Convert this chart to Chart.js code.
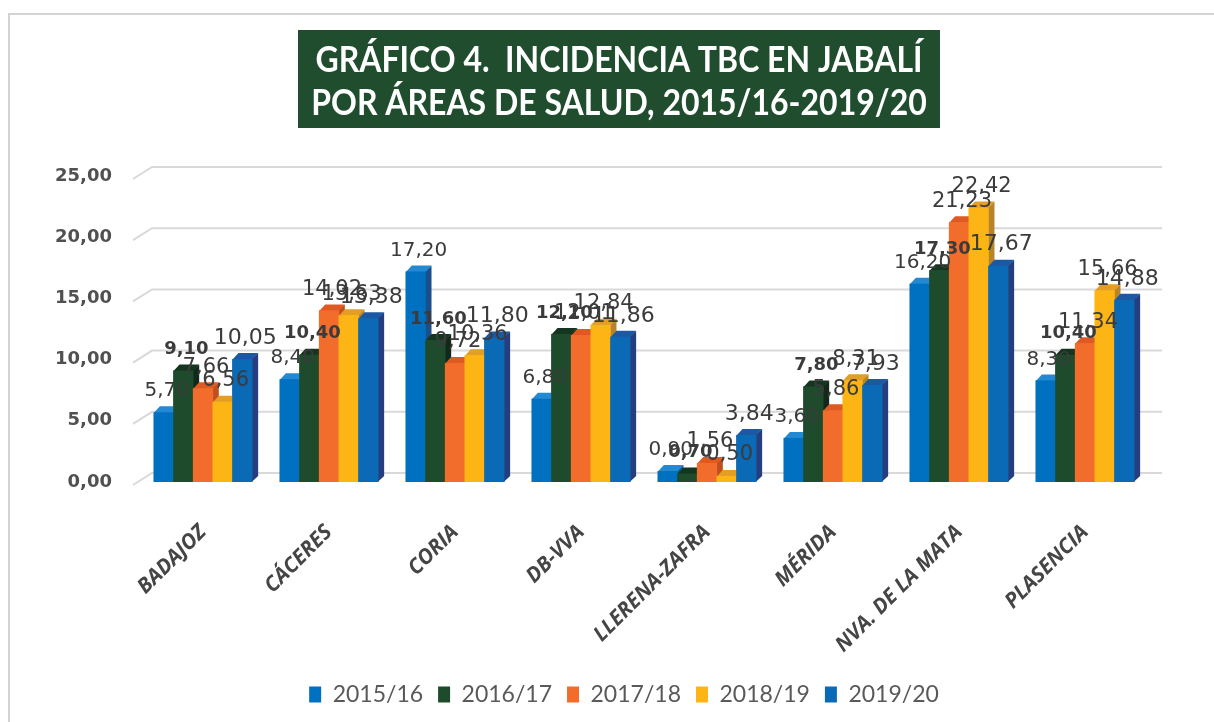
<!DOCTYPE html>
<html><head><meta charset="utf-8">
<script src="https://cdn.jsdelivr.net/npm/chart.js@4.4.1/dist/chart.umd.min.js"></script>
<style>html,body{margin:0;padding:0;background:#fff;} #wrap{position:relative;width:1214px;height:722px;} canvas{display:block;}</style>
</head><body>
<div id="wrap"><canvas id="c" width="1214" height="722"></canvas></div>
<script>
const titleLines = ['GRÁFICO 4.  INCIDENCIA TBC EN JABALÍ', 'POR ÁREAS DE SALUD, 2015/16-2019/20'];
const categories = ['BADAJOZ', 'CÁCERES', 'CORIA', 'DB-VVA', 'LLERENA-ZAFRA', 'MÉRIDA', 'NVA. DE LA MATA', 'PLASENCIA'];
const seriesNames = ['2015/16', '2016/17', '2017/18', '2018/19', '2019/20'];
const s2015_16 = [5.70, 8.40, 17.20, 6.80, 0.90, 3.60, 16.20, 8.30];
const s2016_17 = [9.10, 10.40, 11.60, 12.10, 0.70, 7.80, 17.30, 10.40];
const s2017_18 = [7.66, 14.02, 9.72, 12.01, 1.56, 5.86, 21.23, 11.34];
const s2018_19 = [6.56, 13.63, 10.36, 12.84, 0.50, 8.31, 22.42, 15.66];
const s2019_20 = [10.05, 13.38, 11.80, 11.86, 3.84, 7.93, 17.67, 14.88];
const yTickValues = [0, 5, 10, 15, 20, 25];

const seriesValues = [s2015_16, s2016_17, s2017_18, s2018_19, s2019_20];
const faces = [
  {front: '#0070C0', side: '#1D4E8C', top: '#2389D3'},
  {front: '#1E4B2C', side: '#12291A', top: '#14351F'},
  {front: '#F26D2C', side: '#C14E1F', top: '#DE5A22'},
  {front: '#FDB515', side: '#B8842A', top: '#E39E25'},
  {front: '#0A6AB6', side: '#253E7E', top: '#1D58A3'}
];
const labelStyles = [
  {weight: 'normal', size: 20},
  {weight: 'bold', size: 18},
  {weight: 'normal', size: 21},
  {weight: 'normal', size: 21},
  {weight: 'normal', size: 22}
];
const DX = 6, DY = 6;
const fmt = v => v.toFixed(2).replace('.', ',');

const decorPlugin = {
  id: 'decor',
  afterLayout(chart) {
    if (chart.legend) { chart.legend.left += 50; chart.legend.right += 50; }
  },
  beforeDraw(chart) {
    const ctx = chart.ctx;
    ctx.save();
    ctx.strokeStyle = '#d3d3d3'; ctx.lineWidth = 2;
    ctx.beginPath(); ctx.moveTo(9, 730); ctx.lineTo(9, 14); ctx.lineTo(1220, 14); ctx.stroke();
    ctx.fillStyle = '#1F4D2D';
    ctx.fillRect(298, 30, 642, 98);
    ctx.fillStyle = '#ffffff';
    ctx.font = 'bold 36px Lato';
    ctx.textBaseline = 'middle'; ctx.textAlign = 'center';
    const sx = 607 / ctx.measureText(titleLines[0]).width;
    [60, 103].forEach((yy, i) => {
      ctx.save(); ctx.translate(619, yy); ctx.scale(sx, 1);
      ctx.fillText(titleLines[i], 0, 0); ctx.restore();
    });
    ctx.restore();
  },
  beforeDatasetsDraw(chart) {
    const ctx = chart.ctx, ys = chart.scales.y, a = chart.chartArea;
    ctx.save();
    ctx.strokeStyle = '#d9d9d9'; ctx.lineWidth = 2;
    ys.ticks.forEach(t => {
      const py = ys.getPixelForValue(t.value);
      ctx.beginPath();
      ctx.moveTo(a.left - 7, py + 3);
      ctx.lineTo(a.left + 12, py - 9);
      ctx.lineTo(a.right + 14, py - 9);
      ctx.stroke();
    });
    ctx.restore();
  },
  afterDatasetsDraw(chart) {
    const ctx = chart.ctx;
    ctx.save();
    chart.data.datasets.forEach((ds, i) => {
      const meta = chart.getDatasetMeta(i);
      const f = faces[i];
      meta.data.forEach(bar => {
        const p = bar.getProps(['x', 'y', 'base', 'width'], true);
        const x0 = p.x - p.width / 2, x1 = p.x + p.width / 2;
        ctx.fillStyle = f.side;
        ctx.beginPath();
        ctx.moveTo(x1 - 0.5, p.y); ctx.lineTo(x1 + DX, p.y - DY);
        ctx.lineTo(x1 + DX, p.base - DY); ctx.lineTo(x1 - 0.5, p.base);
        ctx.closePath(); ctx.fill();
        ctx.fillStyle = f.top;
        ctx.beginPath();
        ctx.moveTo(x0, p.y + 0.5); ctx.lineTo(x0 + DX, p.y - DY);
        ctx.lineTo(x1 + DX, p.y - DY); ctx.lineTo(x1, p.y + 0.5);
        ctx.closePath(); ctx.fill();
        ctx.fillStyle = f.front;
        ctx.fillRect(x0 - 0.3, p.y, p.width + 0.6, p.base - p.y);
      });
    });
    ctx.restore();
  },
  afterDraw(chart) {
    const ctx = chart.ctx;
    ctx.save();
    ctx.textAlign = 'center'; ctx.textBaseline = 'middle';
    ctx.fillStyle = '#3b3b3b';
    chart.data.datasets.forEach((ds, i) => {
      const meta = chart.getDatasetMeta(i);
      const st = labelStyles[i];
      ctx.font = st.weight + ' ' + st.size + 'px "DejaVu Sans"';
      meta.data.forEach((bar, j) => {
        const p = bar.getProps(['x', 'y'], true);
        ctx.fillText(fmt(ds.data[j]), p.x + 3, p.y - 21);
      });
    });
    ctx.restore();
  }
};

new Chart(document.getElementById('c'), {
  type: 'bar',
  data: {
    labels: categories,
    datasets: seriesNames.map((n, i) => ({
      label: n,
      data: seriesValues[i],
      backgroundColor: faces[i].front,
      borderWidth: 0,
      categoryPercentage: 0.78,
      barPercentage: 1.0
    }))
  },
  options: {
    responsive: false,
    animation: false,
    layout: {padding: {top: 176, left: 0, right: 66, bottom: 6}},
    plugins: {
      title: {display: false},
      tooltip: {enabled: false},
      legend: {
        position: 'bottom',
        labels: {
          boxWidth: 12, boxHeight: 16, padding: 15,
          color: '#595959',
          font: {family: 'Lato', size: 23}
        }
      }
    },
    scales: {
      y: {
        min: 0, max: 25,
        afterBuildTicks: s => { s.ticks = yTickValues.map(v => ({value: v})); },
        afterFit: s => { s.width = 140; },
        grid: {display: false, drawTicks: false},
        border: {display: false},
        ticks: {
          padding: 28,
          color: '#505050',
          font: {family: 'DejaVu Sans', size: 18, weight: 'bold'},
          callback: v => fmt(v)
        }
      },
      x: {
        grid: {display: false},
        border: {display: false},
        afterFit: s => { s.height = 186; },
        ticks: {
          minRotation: 45, maxRotation: 45, autoSkip: false,
          padding: 30,
          color: '#454545',
          font: {family: '"Open Sans"', size: 21, weight: 'bold', style: 'italic'}
        }
      }
    }
  },
  plugins: [decorPlugin]
});
</script>
</body></html>
